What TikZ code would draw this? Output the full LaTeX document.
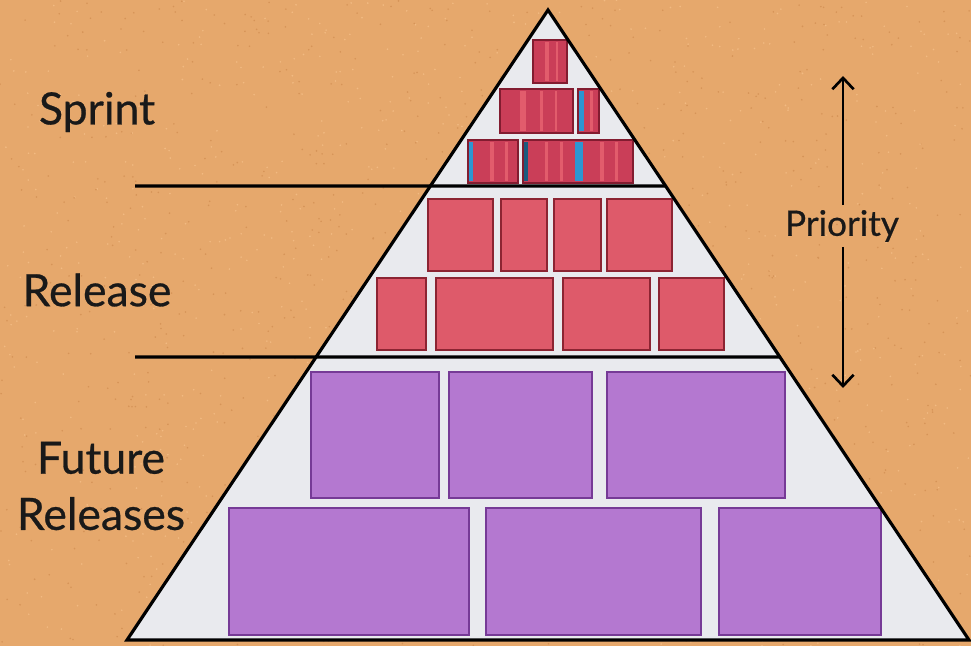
\documentclass[tikz,border=0pt]{standalone}
\usepackage{fontspec}
\setmainfont{Lato}
\newfontfamily\tierfont{Lato}[FakeBold=0.6]
\usetikzlibrary{arrows.meta,positioning,calc}

\definecolor{cork}{RGB}{230,168,108}
\definecolor{corkdark}{RGB}{214,148,88}
\definecolor{corklight}{RGB}{242,186,130}
\definecolor{paper}{RGB}{233,234,238}
\definecolor{sprintred}{RGB}{202,62,88}
\definecolor{sprintlight}{RGB}{226,92,108}
\definecolor{sprintedge}{RGB}{130,28,48}
\definecolor{tagblue}{RGB}{44,150,210}
\definecolor{releasered}{RGB}{222,90,106}
\definecolor{releaseedge}{RGB}{140,36,50}
\definecolor{futurepurple}{RGB}{180,120,208}
\definecolor{futureedge}{RGB}{118,58,150}

\begin{document}
\begin{tikzpicture}[
  x=0.3mm, y=-0.3mm,
  sprintbox/.style={draw=sprintedge, fill=sprintred, line width=0.6mm},
  stripe/.style={fill=sprintlight},
  tag/.style={fill=tagblue},
  releasebox/.style={draw=releaseedge, fill=releasered, line width=0.5mm},
  futurebox/.style={draw=futureedge, fill=futurepurple, line width=0.5mm},
  divider/.style={draw=black, line width=0.95mm},
  tier/.style={font=\tierfont\fontsize{38}{42}\selectfont, align=center, text=black!90},
  prio/.style={font=\tierfont\fontsize{30}{34}\selectfont, text=black!90, inner sep=1pt},
  parrow/.style={draw=black, line width=0.8mm, -{Straight Barb[length=3.4mm, width=6.4mm, line width=0.8mm]}},
]
\useasboundingbox (0,0) rectangle (971,646);
\clip (0,0) rectangle (971,646);

% cork board
\fill[cork] (0,0) rectangle (971,646);
\pgfmathsetseed{7}
\foreach \i in {1,...,900} {
  \fill[corkdark] ({rnd*971},{rnd*646}) circle (0.9);
  \fill[corklight] ({rnd*971},{rnd*646}) circle (0.9);
}

% pyramid
\coordinate (apex) at (548,10);
\coordinate (bl) at (127,640);
\coordinate (br) at (969,640);
\fill[paper] (apex) -- (br) -- (bl) -- cycle;

% sprint
\draw[sprintbox] (533,40) rectangle (567,83);
\fill[stripe] (545,42) rectangle (549,81);
\fill[stripe] (556,42) rectangle (558,81);

\draw[sprintbox] (500,89) rectangle (573,133);
\fill[stripe] (520,91) rectangle (526,131);
\fill[stripe] (540,91) rectangle (543,131);
\fill[stripe] (555,91) rectangle (557,131);
\draw[sprintbox] (578,89) rectangle (599,133);
\fill[tag] (579,91) rectangle (584,131);
\fill[stripe] (590,91) rectangle (593,131);

\draw[sprintbox] (468,140) rectangle (518,183);
\fill[tag] (469,142) rectangle (473,181);
\fill[stripe] (490,142) rectangle (494,181);
\fill[stripe] (505,142) rectangle (508,181);
\draw[sprintbox] (523,140) rectangle (633,183);
\fill[tagblue!60!black] (524,142) rectangle (528,181);
\fill[stripe] (545,142) rectangle (548,181);
\fill[stripe] (560,142) rectangle (563,181);
\fill[tag] (575,142) rectangle (583,181);
\fill[stripe] (600,142) rectangle (604,181);
\fill[stripe] (615,142) rectangle (618,181);

% release
\draw[releasebox] (428,199) rectangle (493,271);
\draw[releasebox] (501,199) rectangle (547,271);
\draw[releasebox] (554,199) rectangle (601,271);
\draw[releasebox] (607,199) rectangle (672,271);
\draw[releasebox] (377,278) rectangle (426,350);
\draw[releasebox] (436,278) rectangle (553,350);
\draw[releasebox] (563,278) rectangle (650,350);
\draw[releasebox] (659,278) rectangle (724,350);

% future releases
\draw[futurebox] (311,372) rectangle (439,498);
\draw[futurebox] (449,372) rectangle (592,498);
\draw[futurebox] (607,372) rectangle (785,498);
\draw[futurebox] (229,508) rectangle (469,635);
\draw[futurebox] (486,508) rectangle (701,635);
\draw[futurebox] (719,508) rectangle (881,635);

% outline and dividers
\draw[divider, line join=miter] (apex) -- (br) -- (bl) -- cycle;
\draw[divider] (135,186) -- ($(apex)!0.2794!(br)$);
\draw[divider] (135,357) -- ($(apex)!0.5508!(br)$);

% labels
\node[tier] (sprint) at (97,112) {Sprint};
\node[tier] (release) at (97,290) {Release};
\node[tier] (future) at (101,486) {Future\\[6pt]Releases};

% priority
\node[prio] (priority) at (842,226) {Priority};
\coordinate (ptop) at (843,76);
\coordinate (pbottom) at (843,388);
\draw[parrow] ([yshift=3pt]priority.north -| ptop) -- (ptop);
\draw[parrow] ([yshift=-3pt]priority.south -| pbottom) -- (pbottom);
\end{tikzpicture}
\end{document}
